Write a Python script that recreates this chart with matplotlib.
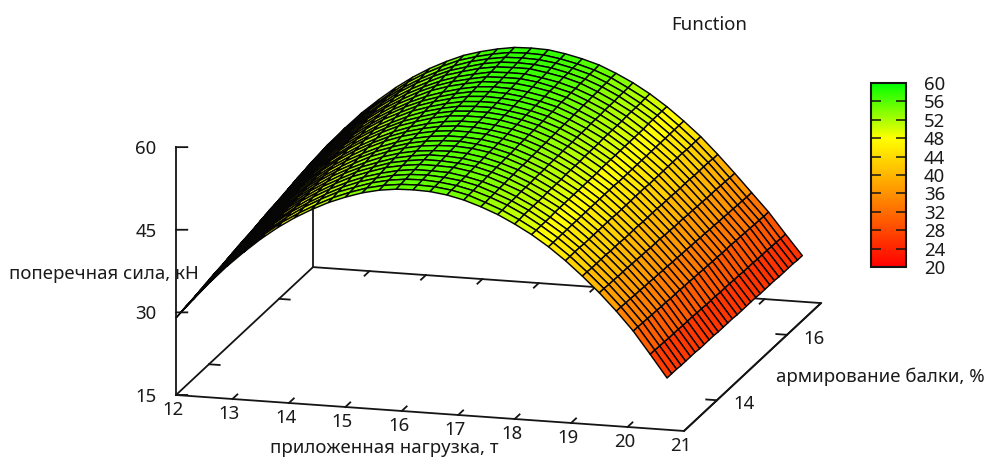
import numpy as np
import matplotlib
matplotlib.use("Agg")
import matplotlib.pyplot as plt
from matplotlib.cm import ScalarMappable
from matplotlib.colors import LinearSegmentedColormap, Normalize
from mpl_toolkits.mplot3d import proj3d

W, H = 987, 457
plt.rcParams['font.family'] = ['Noto Sans', 'DejaVu Sans']

load_vals = [12.0, 12.3, 12.6, 12.9, 13.2, 13.5, 13.8, 14.1, 14.4, 14.7,
             15.0, 15.3, 15.6, 15.9, 16.2, 16.5, 16.8, 17.1, 17.4, 17.7,
             18.0, 18.3, 18.6, 18.9, 19.2, 19.5, 19.8, 20.1, 20.4, 20.7]
reinf_vals = [13.06, 13.19, 13.33, 13.46, 13.59, 13.73, 13.86, 13.99, 14.12, 14.26,
              14.39, 14.52, 14.66, 14.79, 14.92, 15.06, 15.19, 15.32, 15.45, 15.59,
              15.72, 15.85, 15.99, 16.12, 16.25, 16.39, 16.52, 16.65, 16.78, 16.92]

# shear force, one row per load value
shear_force = [
    [29.0,29.2,29.4,29.5,29.7,29.9,30.1,30.3,30.5,30.6,30.8,31.0,31.2,31.4,31.6,31.7,31.9,32.1,32.3,32.5,32.7,32.8,33.0,33.2,33.4,33.6,33.8,33.9,34.1,34.3],
    [32.5,32.7,32.9,33.0,33.2,33.4,33.6,33.8,34.0,34.1,34.3,34.5,34.7,34.9,35.1,35.2,35.4,35.6,35.8,36.0,36.2,36.3,36.5,36.7,36.9,37.1,37.3,37.4,37.6,37.8],
    [35.9,36.1,36.2,36.4,36.6,36.8,37.0,37.1,37.3,37.5,37.7,37.8,38.0,38.2,38.4,38.5,38.7,38.9,39.1,39.2,39.4,39.6,39.8,39.9,40.1,40.3,40.5,40.7,40.8,41.0],
    [39.0,39.2,39.3,39.5,39.7,39.9,40.0,40.2,40.4,40.6,40.7,40.9,41.1,41.2,41.4,41.6,41.8,41.9,42.1,42.3,42.4,42.6,42.8,43.0,43.1,43.3,43.5,43.7,43.8,44.0],
    [41.8,42.0,42.1,42.3,42.5,42.6,42.8,43.0,43.1,43.3,43.5,43.6,43.8,44.0,44.1,44.3,44.5,44.6,44.8,45.0,45.1,45.3,45.4,45.6,45.8,45.9,46.1,46.3,46.4,46.6],
    [44.4,44.6,44.7,44.9,45.0,45.2,45.4,45.5,45.7,45.8,46.0,46.1,46.3,46.5,46.6,46.8,46.9,47.1,47.3,47.4,47.6,47.7,47.9,48.1,48.2,48.4,48.5,48.7,48.8,49.0],
    [46.7,46.9,47.0,47.2,47.3,47.5,47.6,47.8,47.9,48.1,48.2,48.4,48.5,48.7,48.8,49.0,49.1,49.3,49.4,49.6,49.7,49.9,50.0,50.2,50.3,50.5,50.7,50.8,51.0,51.1],
    [48.7,48.8,49.0,49.1,49.3,49.4,49.6,49.7,49.9,50.0,50.1,50.3,50.4,50.6,50.7,50.9,51.0,51.2,51.3,51.5,51.6,51.7,51.9,52.0,52.2,52.3,52.5,52.6,52.8,52.9],
    [50.4,50.5,50.7,50.8,51.0,51.1,51.2,51.4,51.5,51.6,51.8,51.9,52.1,52.2,52.3,52.5,52.6,52.7,52.9,53.0,53.2,53.3,53.4,53.6,53.7,53.8,54.0,54.1,54.3,54.4],
    [51.9,52.0,52.2,52.3,52.4,52.6,52.7,52.8,52.9,53.1,53.2,53.3,53.5,53.6,53.7,53.9,54.0,54.1,54.3,54.4,54.5,54.6,54.8,54.9,55.0,55.2,55.3,55.4,55.6,55.7],
    [53.1,53.2,53.3,53.5,53.6,53.7,53.8,53.9,54.1,54.2,54.3,54.4,54.6,54.7,54.8,54.9,55.0,55.2,55.3,55.4,55.5,55.6,55.8,55.9,56.0,56.1,56.2,56.4,56.5,56.6],
    [54.1,54.2,54.3,54.4,54.5,54.7,54.8,54.9,55.0,55.1,55.2,55.3,55.4,55.5,55.6,55.8,55.9,56.0,56.1,56.2,56.3,56.4,56.5,56.6,56.7,56.9,57.0,57.1,57.2,57.3],
    [54.8,54.9,55.0,55.1,55.2,55.3,55.4,55.5,55.6,55.7,55.8,55.9,56.0,56.1,56.2,56.4,56.5,56.6,56.7,56.8,56.9,57.0,57.1,57.2,57.3,57.4,57.5,57.6,57.7,57.8],
    [55.2,55.3,55.4,55.5,55.6,55.7,55.8,55.9,55.9,56.0,56.1,56.2,56.3,56.4,56.5,56.6,56.7,56.8,56.9,57.0,57.1,57.2,57.2,57.3,57.4,57.5,57.6,57.7,57.8,57.9],
    [55.3,55.4,55.5,55.6,55.6,55.7,55.8,55.9,56.0,56.1,56.2,56.2,56.3,56.4,56.5,56.6,56.7,56.8,56.9,56.9,57.0,57.1,57.2,57.3,57.4,57.5,57.5,57.6,57.7,57.8],
    [55.2,55.3,55.3,55.4,55.5,55.6,55.6,55.7,55.8,55.9,55.9,56.0,56.1,56.1,56.2,56.3,56.4,56.4,56.5,56.6,56.6,56.7,56.8,56.9,56.9,57.0,57.1,57.2,57.2,57.3],
    [54.8,54.9,54.9,55.0,55.0,55.1,55.2,55.2,55.3,55.4,55.4,55.5,55.5,55.6,55.7,55.7,55.8,55.9,55.9,56.0,56.0,56.1,56.2,56.2,56.3,56.4,56.4,56.5,56.5,56.6],
    [54.1,54.2,54.2,54.3,54.3,54.4,54.4,54.5,54.5,54.6,54.6,54.7,54.8,54.8,54.9,54.9,55.0,55.0,55.1,55.1,55.2,55.3,55.3,55.4,55.4,55.5,55.5,55.6,55.6,55.7],
    [53.1,53.1,53.2,53.2,53.3,53.3,53.4,53.4,53.5,53.5,53.5,53.6,53.6,53.7,53.7,53.8,53.8,53.9,53.9,53.9,54.0,54.0,54.1,54.1,54.2,54.2,54.3,54.3,54.4,54.4],
    [51.9,51.9,52.0,52.0,52.0,52.1,52.1,52.1,52.2,52.2,52.2,52.3,52.3,52.3,52.4,52.4,52.4,52.5,52.5,52.5,52.6,52.6,52.6,52.7,52.7,52.7,52.8,52.8,52.8,52.9],
    [50.4,50.4,50.5,50.5,50.5,50.5,50.5,50.6,50.6,50.6,50.6,50.7,50.7,50.7,50.7,50.8,50.8,50.8,50.8,50.9,50.9,50.9,50.9,50.9,51.0,51.0,51.0,51.0,51.1,51.1],
    [48.7,48.7,48.7,48.7,48.7,48.8,48.8,48.8,48.8,48.8,48.8,48.8,48.8,48.8,48.8,48.9,48.9,48.9,48.9,48.9,48.9,48.9,48.9,48.9,48.9,49.0,49.0,49.0,49.0,49.0],
    [46.7,46.7,46.7,46.7,46.7,46.7,46.7,46.7,46.7,46.7,46.7,46.7,46.7,46.7,46.7,46.6,46.6,46.6,46.6,46.6,46.6,46.6,46.6,46.6,46.6,46.6,46.6,46.6,46.6,46.6],
    [44.4,44.4,44.4,44.4,44.3,44.3,44.3,44.3,44.3,44.3,44.3,44.2,44.2,44.2,44.2,44.2,44.2,44.2,44.1,44.1,44.1,44.1,44.1,44.1,44.1,44.1,44.0,44.0,44.0,44.0],
    [41.8,41.8,41.7,41.7,41.7,41.7,41.6,41.6,41.6,41.5,41.5,41.5,41.5,41.4,41.4,41.4,41.4,41.3,41.3,41.3,41.2,41.2,41.2,41.2,41.1,41.1,41.1,41.1,41.0,41.0],
    [39.0,39.0,38.9,38.9,38.8,38.8,38.8,38.7,38.7,38.6,38.6,38.5,38.5,38.5,38.4,38.4,38.3,38.3,38.3,38.2,38.2,38.1,38.1,38.0,38.0,38.0,37.9,37.9,37.8,37.8],
    [35.9,35.9,35.8,35.8,35.7,35.7,35.6,35.6,35.5,35.5,35.4,35.4,35.3,35.3,35.2,35.2,35.1,35.1,35.0,35.0,34.9,34.9,34.8,34.8,34.7,34.7,34.6,34.6,34.5,34.5],
    [32.5,32.5,32.4,32.4,32.3,32.3,32.2,32.2,32.1,32.1,32.1,32.0,32.0,31.9,31.9,31.8,31.8,31.7,31.7,31.6,31.6,31.6,31.5,31.5,31.4,31.4,31.3,31.3,31.2,31.2],
    [28.5,28.5,28.4,28.4,28.3,28.3,28.3,28.2,28.2,28.2,28.1,28.1,28.0,28.0,28.0,27.9,27.9,27.9,27.8,27.8,27.7,27.7,27.7,27.6,27.6,27.6,27.5,27.5,27.4,27.4],
    [24.4,24.4,24.4,24.3,24.3,24.3,24.3,24.2,24.2,24.2,24.2,24.1,24.1,24.1,24.1,24.0,24.0,24.0,24.0,24.0,23.9,23.9,23.9,23.9,23.8,23.8,23.8,23.8,23.7,23.7],
]

x_ticks = [12, 13, 14, 15, 16, 17, 18, 19, 20, 21]
y_ticks = [14, 16]
z_ticks = [15, 30, 45, 60]
cb_ticks = [20, 24, 28, 32, 36, 40, 44, 48, 52, 56, 60]

x_lim = (12, 21)
y_lim = (13.06, 16.97)
z_lim = (15, 60)

palette = [(0.0, '#ff0000'), (0.7, '#ffff00'), (1.0, '#00ff00')]
cmap = LinearSegmentedColormap.from_list('rg', palette)
norm = Normalize(20, 60)

LINE = '#141414'
TEXT = '#1a1a1a'
FS = 13.4

fig = plt.figure(figsize=(W / 100, H / 100), dpi=100, facecolor='white')
ax = fig.add_axes([0, 0, 1, 1], projection='3d', computed_zorder=False)

X, Y = np.meshgrid(load_vals, reinf_vals, indexing='ij')
Z = np.array(shear_force)
ax.plot_surface(X, Y, Z, rstride=1, cstride=1, cmap=cmap, norm=norm, shade=False,
                edgecolor='#050505', linewidth=1.05, antialiased=True, zorder=2)


def line3(xs, ys, zs, zorder=1, lw=1.3):
    ax.plot(xs, ys, zs, color=LINE, lw=lw, zorder=zorder, solid_capstyle='projecting')


# floor box and the two verticals
y0, y1 = y_lim
line3([12, 21, 21], [y0, y0, y1], [15, 15, 15], zorder=3)
line3([12, 12, 21, 21], [y0, y1, y1, y0], [15, 15, 15, 15])
line3([12, 12], [y0, y0], [15, 60], zorder=3)
line3([12, 12], [y1, y1], [15, 32])

for t in x_ticks[1:-1]:
    line3([t, t], [y0, y0 + 0.14], [15, 15], zorder=3)
    line3([t, t], [y1, y1 - 0.14], [15, 15])
for t in y_ticks:
    line3([12, 12.19], [t, t], [15, 15], zorder=3)
    line3([21, 20.81], [t, t], [15, 15], zorder=3)
for t in z_ticks:
    line3([12, 12.2], [y0, y0], [t, t + 0.15], zorder=3)

ax.set_xlim(*x_lim, view_margin=0)
ax.set_ylim(*y_lim, view_margin=0)
ax.set_zlim(*z_lim, view_margin=0)
ax.view_init(elev=14.9, azim=-74.6)
ax.set_proj_type('ortho')
ax.set_box_aspect((527, 516, 256.5))
ax.set_axis_off()


def place(size, cx, cy):
    ax.set_position([(cx - size / 2) / W, (cy - size / 2) / H, size / W, size / H])
    ax.apply_aspect()


def project(x, y, z):
    xd, yd, _ = proj3d.proj_transform(x, y, z, ax.get_proj())
    return ax.transData.transform((xd, yd))


# fit the box so the floor corners land where they are in the picture
target_a = np.array([176.0, H - 395.0])
target_b = np.array([821.0, H - 303.0])
size, cx, cy = 760.0, 500.0, 230.0
place(size, cx, cy)
a = project(12, y0, 15)
b = project(21, y1, 15)
size *= np.linalg.norm(target_b - target_a) / np.linalg.norm(b - a)
place(size, cx, cy)
a = project(12, y0, 15)
cx += target_a[0] - a[0]
cy += target_a[1] - a[1]
place(size, cx, cy)


def label_at(x, y, z, dx, dy, s):
    px, py = project(x, y, z)
    fig.text((px + dx) / W, (py - dy) / H, s, ha='center', va='center',
             fontsize=FS, color=TEXT)


for t in x_ticks:
    label_at(t, y0, 15, -3, 15, str(t))
for t in y_ticks:
    label_at(21, t, 15, 27, 4, str(t))
for t in z_ticks:
    label_at(12, y0, t, -30, 2, str(t))


def title_at(px, py, s):
    fig.text(px / W, 1 - py / H, s, ha='center', va='center', fontsize=FS, color=TEXT)


title_at(709, 25, 'Function')
title_at(104, 274, 'поперечная сила, кН')
title_at(384, 448, 'приложенная нагрузка, т')
title_at(880, 377, 'армирование балки, %')

# colour box on the right
cax = fig.add_axes([871 / W, 1 - 267 / H, 35 / W, 184 / H])
cb = fig.colorbar(ScalarMappable(norm=norm, cmap=cmap), cax=cax, ticks=cb_ticks)
cb.outline.set_linewidth(1.5)
cb.outline.set_edgecolor(LINE)
cax.tick_params(axis='y', which='both', direction='in', length=7, width=1.1, color=LINE,
                left=True, right=True, labelleft=False, labelright=True,
                labelsize=FS, labelcolor=TEXT, pad=13)

fig.savefig('out.png', dpi=100)
